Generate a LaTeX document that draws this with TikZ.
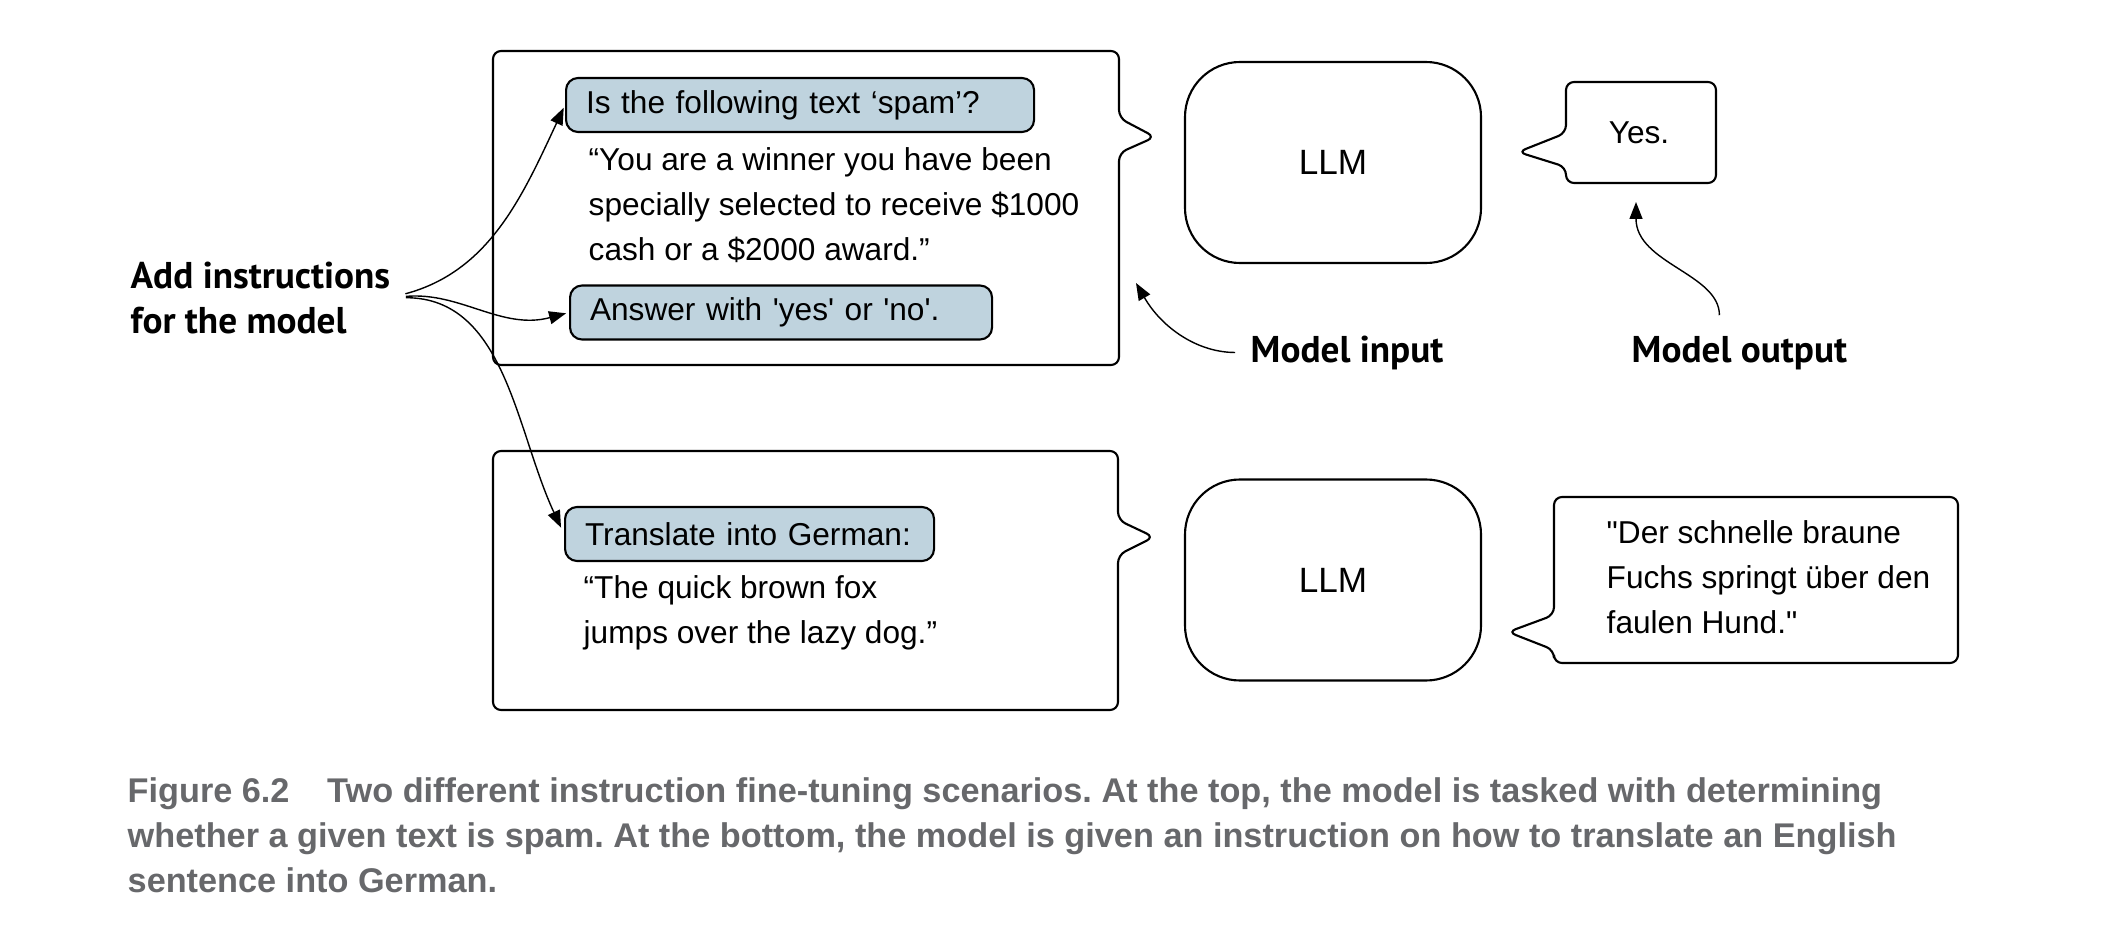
\documentclass[tikz,border=0pt]{standalone}
\usepackage{fontspec}
\setmainfont{Liberation Sans}[Ligatures=TeXOff]
\newfontfamily\lblfont{PT Sans}
\usetikzlibrary{arrows.meta,positioning}
\definecolor{boxblue}{HTML}{BFD3DE}
\definecolor{capgray}{HTML}{67686B}
\frenchspacing
\tikzset{
  bubble/.style={draw, line width=0.6pt, rounded corners=0.08cm},
  prompt/.style={draw, line width=0.6pt, fill=boxblue, rounded corners=0.12cm, minimum height=0.54cm,
    inner xsep=0.2cm, anchor=west, align=left, font=\fontsize{9}{12.8}\selectfont},
  llm/.style={draw, line width=0.6pt, rounded corners=0.55cm, minimum width=2.96cm, minimum height=2.01cm,
    font=\fontsize{10}{12}\selectfont},
  body/.style={anchor=base west, align=left, inner sep=0pt, font=\fontsize{9}{12.8}\selectfont},
  note/.style={anchor=base west, align=left, inner sep=0pt, font=\lblfont\bfseries\fontsize{10.6}{12.7}\selectfont},
  hint/.style={-{Triangle[length=1.7mm,width=1.3mm]}, line width=0.4pt},
}
\begin{document}
\begin{tikzpicture}
    \useasboundingbox (0,0) rectangle (21.16,-9.5);
    % top: spam check
    \draw[bubble] (4.93,-0.51) -- (11.19,-0.51) -- (11.19,-1.18) -- (11.55,-1.37) -- (11.19,-1.53)
        -- (11.19,-3.65) -- (4.93,-3.65) -- cycle;
    \node[prompt, text width=4.28cm] (q1) at (5.65,-1.05) {Is the following text ‘spam’?};
    \node[body] (spam) at (5.88,-2.60) {“You are a winner you have been\\specially selected to receive \$1000\\cash or a \$2000 award.”};
    \node[prompt, text width=3.82cm] (q2) at (5.69,-3.125) {Answer with 'yes' or 'no'.};
    \node[llm] (llmA) at (13.33,-1.625) {LLM};
    \draw[bubble] (15.66,-0.82) -- (17.16,-0.82) -- (17.16,-1.83) -- (15.66,-1.83) -- (15.66,-1.67)
        -- (15.18,-1.52) -- (15.66,-1.33) -- cycle;
    \node[font=\fontsize{9}{11}\selectfont] (yes) at (16.39,-1.33) {Yes.};
    % bottom: translation
    \draw[bubble] (4.93,-4.51) -- (11.18,-4.51) -- (11.18,-5.20) -- (11.54,-5.37) -- (11.18,-5.55)
        -- (11.18,-7.10) -- (4.93,-7.10) -- cycle;
    \node[prompt, text width=3.29cm] (q3) at (5.64,-5.34) {Translate into German:};
    \node[body] (fox) at (5.83,-6.43) {“The quick brown fox\\jumps over the lazy dog.”};
    \node[llm] (llmB) at (13.33,-5.80) {LLM};
    \draw[bubble] (15.54,-4.97) -- (19.58,-4.97) -- (19.58,-6.63) -- (15.54,-6.63) -- (15.54,-6.50)
        -- (15.08,-6.32) -- (15.54,-6.15) -- cycle;
    \node[body] (fuchs) at (16.06,-6.33) {"Der schnelle braune\\Fuchs springt über den\\faulen Hund."};
    % labels
    \node[note] (addlbl) at (1.30,-3.33) {Add instructions\\for the model};
    \node[note] (inlbl) at (12.50,-3.62) {Model input};
    \node[note] (outlbl) at (16.31,-3.62) {Model output};
    \coordinate (inptr) at (11.36,-2.83);
    \coordinate (outptr) at (16.36,-2.02);
    \draw[hint, shorten <=1.5mm, shorten >=0.3mm] (addlbl.east) to[out=15, in=-115] (q1.west);
    \draw[hint, shorten <=1.5mm, shorten >=0.3mm] (addlbl.east) to[out=5, in=195] (q2.west);
    \draw[hint, shorten <=1.5mm, shorten >=0.7mm] (addlbl.east) to[out=0, in=115] (q3.west);
    \draw[hint, shorten <=1.5mm] (inlbl.west) to[out=180, in=-60] (inptr);
    \draw[hint, shorten <=2mm] ([xshift=-2mm]outlbl.north) to[out=90, in=-90] (outptr);
    % caption
    \node[anchor=base west, align=left, inner sep=0pt, text=capgray, font=\bfseries\fontsize{9.75}{12.8}\selectfont] (cap)
        at (1.27,-8.92) {Figure 6.2\hspace{1.1em}Two different instruction fine-tuning scenarios. At the top, the model is tasked with determining\\whether a given text is spam. At the bottom, the model is given an instruction on how to translate an English\\sentence into German.};
\end{tikzpicture}
\end{document}
